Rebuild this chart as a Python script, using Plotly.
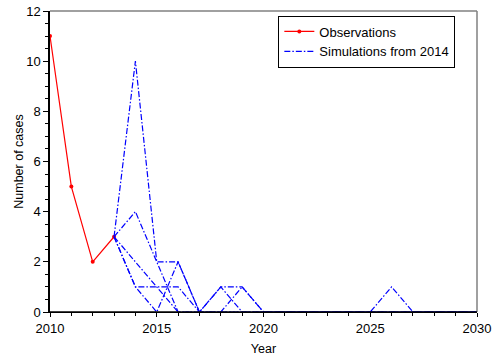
import plotly.graph_objects as go

obs_years = [2010, 2011, 2012, 2013]
obs_cases = [11, 5, 2, 3]

sim_years = [2013, 2014, 2015, 2016, 2017, 2018, 2019, 2020, 2021, 2022,
             2023, 2024, 2025, 2026, 2027, 2028, 2029, 2030]
sim_runs = [
    [3, 10, 2, 2, 0, 1, 1, 0, 0, 0, 0, 0, 0, 0, 0, 0, 0, 0],
    [3, 4, 2, 0, 0, 0, 1, 0, 0, 0, 0, 0, 0, 0, 0, 0, 0, 0],
    [3, 1, 1, 1, 0, 1, 0, 0, 0, 0, 0, 0, 0, 0, 0, 0, 0, 0],
    [3, 1, 0, 2, 0, 0, 0, 0, 0, 0, 0, 0, 0, 1, 0, 0, 0, 0],
    [3, 2, 1, 0, 0, 0, 0, 0, 0, 0, 0, 0, 0, 0, 0, 0, 0, 0],
]

fig = go.Figure()

fig.add_trace(go.Scatter(
    x=obs_years, y=obs_cases, mode="lines+markers", name="Observations",
    line=dict(color="#ff0000", width=1.2),
    marker=dict(color="#ff0000", size=4),
))

for i, run in enumerate(sim_runs):
    fig.add_trace(go.Scatter(
        x=sim_years, y=run, mode="lines", name="Simulations from 2014",
        legendgroup="sims", showlegend=(i == 0),
        line=dict(color="#0000ff", width=1.2, dash="6px,2px,1.5px,2px"),
    ))

axis_font = dict(family="Liberation Sans, Arial, sans-serif", size=13, color="black")
title_font = dict(family="Liberation Sans, Arial, sans-serif", size=12.5, color="black")

fig.update_layout(
    width=494, height=357,
    margin=dict(l=50, r=17, t=11, b=45),
    paper_bgcolor="white", plot_bgcolor="white",
    font=axis_font,
    showlegend=True,
    legend=dict(
        x=0.742, y=0.985, xanchor="center", yanchor="top",
        bordercolor="black", borderwidth=1, bgcolor="white",
        font=dict(size=13), tracegroupgap=0, itemwidth=30,
    ),
    shapes=[
        # top and right frame in grey
        dict(type="line", xref="paper", yref="paper", x0=0, x1=1, y0=1, y1=1,
             line=dict(color="#808080", width=1.5)),
        dict(type="line", xref="paper", yref="paper", x0=1, x1=1, y0=0, y1=1,
             line=dict(color="#808080", width=1.5)),
        # black baseline drawn over the zero segments
        dict(type="line", xref="paper", yref="y", x0=0, x1=1, y0=0, y1=0,
             layer="above", line=dict(color="black", width=1.5)),
    ],
)

fig.update_xaxes(
    range=[2010, 2030], tickmode="linear", tick0=2010, dtick=5,
    ticks="outside", ticklen=4, tickcolor="black", tickwidth=1,
    minor=dict(dtick=1, ticks="outside", ticklen=3, tickcolor="black"),
    showline=True, linecolor="black", linewidth=1,
    showgrid=False, zeroline=False, automargin=False,
    title=dict(text="Year", standoff=9, font=title_font), tickfont=axis_font,
)
fig.update_yaxes(
    range=[0, 12], tickmode="linear", tick0=0, dtick=2,
    ticks="outside", ticklen=5, tickcolor="black", tickwidth=1,
    minor=dict(dtick=0.5, ticks="outside", ticklen=3, tickcolor="black"),
    showline=True, linecolor="black", linewidth=1.5,
    showgrid=False, zeroline=False, automargin=False,
    title=dict(text="Number of cases", standoff=0, font=title_font), tickfont=axis_font,
)

fig.write_html("out.html", config={"displayModeBar": False},
               post_script="document.body.style.margin='0';")
